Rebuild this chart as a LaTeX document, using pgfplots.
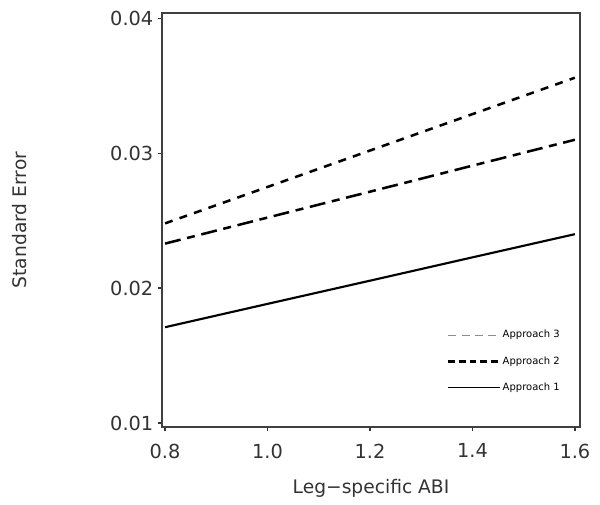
\documentclass[border=0pt]{standalone}
\usepackage{fontspec}
\setmainfont{DejaVu Sans}
\usepackage{pgfplots}
\pgfplotsset{compat=1.18}
\usetikzlibrary{calc}

\begin{document}
\begin{tikzpicture}
\begin{axis}[
    scale only axis,
    width=313.5pt,
    height=310.5pt,
    xmin=0.794, xmax=1.61,
    ymin=0.0097, ymax=0.0404,
    xtick={0.8,1.0,1.2,1.4,1.6},
    ytick={0.01,0.02,0.03,0.04},
    xticklabel style={/pgf/number format/.cd, fixed, fixed zerofill, precision=1, /tikz/.cd, yshift=-6pt},
    yticklabel style={/pgf/number format/.cd, fixed, fixed zerofill, precision=2},
    /pgf/number format/assume math mode=true,
    scaled y ticks=false,
    tick pos=left,
    tick align=outside,
    major tick length=3pt,
    tick style={black!80, line width=1pt},
    axis line style={black!75, line width=1pt},
    tick label style={font=\fontsize{14.5}{16}\selectfont, text=black!80},
    label style={font=\fontsize{14}{16}\selectfont, text=black!80},
    xlabel={Leg−specific ABI},
    ylabel={Standard Error},
    xlabel style={at={(axis description cs:0.5,-0.147)}, anchor=center},
    ylabel style={at={(axis description cs:-0.34,0.5)}, anchor=center},
    legend cell align=left,
    reverse legend,
    legend style={at={(axis description cs:0.965,0.07)}, anchor=south east,
        draw=none, fill=none, font=\fontsize{7.5}{8}\selectfont,
        row sep=8.5pt, nodes={inner xsep=1pt}},
]
\addplot[black, line width=1.6pt,
    legend image code/.code={\draw[black, line width=0.7pt] (0pt,0pt) -- (39pt,0pt);}]
    coordinates {(0.8,0.0171) (1.0,0.01883) (1.2,0.02055) (1.4,0.02228) (1.6,0.0240)};
\addlegendentry{Approach 1}
\addplot[black, line width=1.9pt, dash pattern=on 12pt off 5pt on 6pt off 5pt,
    legend image code/.code={\draw[black, line width=1.8pt, dash pattern=on 5pt off 3pt] (0pt,0pt) -- (39pt,0pt);}]
    coordinates {(0.8,0.0233) (1.0,0.02523) (1.2,0.02715) (1.4,0.02908) (1.6,0.0310)};
\addlegendentry{Approach 2}
\addplot[black, line width=1.9pt, dash pattern=on 6pt off 5.5pt,
    legend image code/.code={\draw[black!45, line width=0.8pt, dash pattern=on 6pt off 4pt] (0pt,0pt) -- (39pt,0pt);}]
    coordinates {(0.8,0.0248) (1.0,0.0275) (1.2,0.0302) (1.4,0.0329) (1.6,0.0356)};
\addlegendentry{Approach 3}
\end{axis}
\useasboundingbox ($(current axis.south west)+(-121.5pt,-57.75pt)$) rectangle ($(current axis.north east)+(15pt,9.75pt)$);
\end{tikzpicture}
\end{document}
